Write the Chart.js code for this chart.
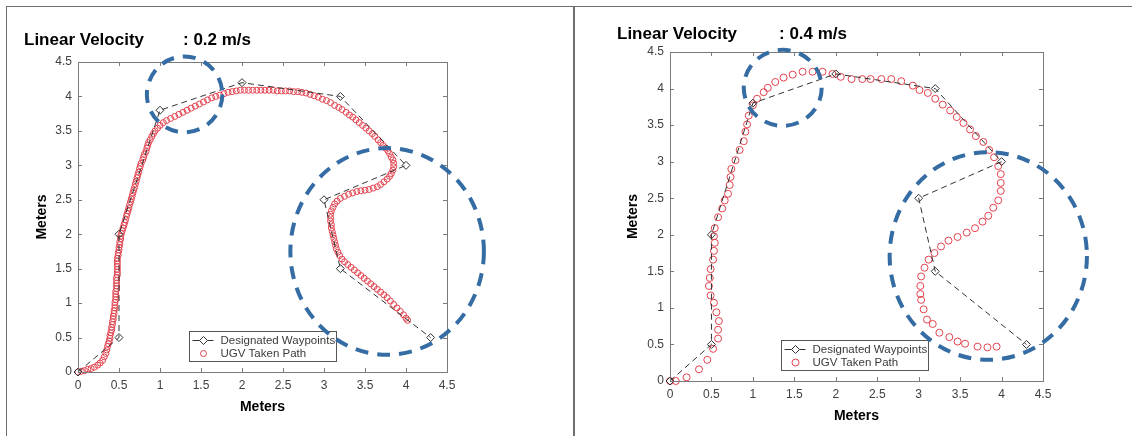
<!DOCTYPE html>
<html>
<head>
<meta charset="utf-8">
<script src="https://cdn.jsdelivr.net/npm/chart.js@4"></script>
<style>
  body { margin: 0; background: #fff; width: 1132px; height: 436px; overflow: hidden; position: relative;
         font-family: "Liberation Sans", Arial, sans-serif; }
  .frame { position: absolute; left: 6px; top: 6px; width: 1140px; height: 440px;
           border-left: 1.5px solid #6e6e6e; border-top: 1.5px solid #6e6e6e; }
  .sep { position: absolute; left: 573px; top: 6px; width: 1.5px; height: 440px; background: #6e6e6e; }
  .title { position: absolute; font-weight: bold; font-size: 17px; line-height: 20px; color: #000; white-space: nowrap; }
  canvas { position: absolute; top: 0; }
</style>
</head>
<body>
<div class="frame"></div>
<div class="sep"></div>
<canvas id="slow" width="566" height="436" style="left:0"></canvas>
<canvas id="fast" width="559" height="436" style="left:573px"></canvas>
<div class="title" style="left:24px;top:30px">Linear Velocity</div>
<div class="title" style="left:183px;top:30px">: 0.2 m/s</div>
<div class="title" style="left:617px;top:24px">Linear Velocity</div>
<div class="title" style="left:779px;top:24px">: 0.4 m/s</div>
<script>
const tickValues = [0, 0.5, 1, 1.5, 2, 2.5, 3, 3.5, 4, 4.5];
const legendLabels = ['Designated Waypoints', 'UGV Taken Path'];

const waypoints = [[0, 0], [0.5, 0.5], [0.5, 2], [1, 3.8], [2, 4.2], [3.2, 4], [4, 3], [3, 2.5], [3.2, 1.5], [4.3, 0.5]];

// path driven at 0.2 m/s (dense samples)
const pathSlow = [
  [0, 0], [0.04, 0.01], [0.08, 0.02], [0.12, 0.04], [0.16, 0.05], [0.2, 0.07], [0.24, 0.1], [0.27, 0.13],
  [0.3, 0.17], [0.32, 0.22], [0.34, 0.27], [0.35, 0.32], [0.36, 0.37], [0.37, 0.41], [0.38, 0.45], [0.39, 0.49],
  [0.39, 0.53], [0.4, 0.57], [0.41, 0.61], [0.41, 0.65], [0.42, 0.69], [0.42, 0.73], [0.43, 0.77], [0.43, 0.81],
  [0.44, 0.85], [0.44, 0.89], [0.45, 0.93], [0.45, 0.97], [0.45, 1.01], [0.46, 1.05], [0.46, 1.09], [0.46, 1.13],
  [0.46, 1.17], [0.47, 1.21], [0.47, 1.25], [0.47, 1.29], [0.47, 1.33], [0.47, 1.37], [0.48, 1.41], [0.48, 1.45],
  [0.48, 1.49], [0.48, 1.53], [0.48, 1.57], [0.48, 1.61], [0.48, 1.65], [0.49, 1.69], [0.49, 1.73], [0.5, 1.77],
  [0.5, 1.81], [0.51, 1.85], [0.51, 1.89], [0.52, 1.93], [0.52, 1.97], [0.53, 2.01], [0.54, 2.05], [0.55, 2.09],
  [0.56, 2.13], [0.57, 2.17], [0.58, 2.21], [0.59, 2.26], [0.6, 2.3], [0.61, 2.34], [0.62, 2.38], [0.63, 2.43],
  [0.64, 2.47], [0.65, 2.51], [0.66, 2.55], [0.67, 2.6], [0.68, 2.64], [0.69, 2.68], [0.7, 2.73], [0.71, 2.77],
  [0.72, 2.82], [0.73, 2.86], [0.74, 2.9], [0.75, 2.95], [0.76, 2.99], [0.77, 3.03], [0.79, 3.08], [0.8, 3.12],
  [0.81, 3.16], [0.83, 3.2], [0.84, 3.25], [0.85, 3.29], [0.86, 3.33], [0.88, 3.37], [0.9, 3.42], [0.92, 3.46],
  [0.94, 3.5], [0.97, 3.54], [1.0, 3.58], [1.04, 3.62], [1.08, 3.65], [1.13, 3.68], [1.18, 3.71], [1.23, 3.74],
  [1.28, 3.77], [1.33, 3.8], [1.38, 3.83], [1.43, 3.86], [1.48, 3.89], [1.53, 3.92], [1.58, 3.95], [1.63, 3.98],
  [1.68, 4.0], [1.73, 4.02], [1.78, 4.04], [1.83, 4.06], [1.88, 4.07], [1.93, 4.08], [1.98, 4.09], [2.03, 4.09],
  [2.08, 4.09], [2.13, 4.09], [2.18, 4.09], [2.23, 4.09], [2.28, 4.09], [2.33, 4.09], [2.38, 4.09], [2.43, 4.08],
  [2.48, 4.08], [2.53, 4.08], [2.58, 4.08], [2.63, 4.07], [2.68, 4.07], [2.73, 4.06], [2.78, 4.05], [2.83, 4.03],
  [2.88, 4.01], [2.93, 3.99], [2.98, 3.96], [3.03, 3.94], [3.08, 3.91], [3.13, 3.87], [3.18, 3.84], [3.22, 3.81],
  [3.27, 3.77], [3.31, 3.73], [3.35, 3.7], [3.39, 3.66], [3.43, 3.62], [3.47, 3.58], [3.51, 3.54], [3.55, 3.5],
  [3.59, 3.46], [3.62, 3.42], [3.66, 3.37], [3.69, 3.33], [3.72, 3.29], [3.75, 3.25], [3.78, 3.21], [3.8, 3.17],
  [3.82, 3.12], [3.84, 3.08], [3.85, 3.03], [3.85, 2.98], [3.84, 2.93], [3.82, 2.88], [3.8, 2.84], [3.77, 2.8],
  [3.73, 2.76], [3.69, 2.72], [3.65, 2.69], [3.6, 2.67], [3.55, 2.65], [3.5, 2.64], [3.45, 2.63], [3.4, 2.62],
  [3.35, 2.6], [3.3, 2.58], [3.25, 2.55], [3.2, 2.52], [3.16, 2.48], [3.13, 2.44], [3.11, 2.39], [3.09, 2.34],
  [3.08, 2.29], [3.08, 2.24], [3.08, 2.19], [3.09, 2.14], [3.09, 2.09], [3.1, 2.04], [3.11, 1.99], [3.12, 1.94],
  [3.13, 1.89], [3.14, 1.84], [3.15, 1.79], [3.17, 1.74], [3.19, 1.69], [3.22, 1.64], [3.25, 1.6], [3.29, 1.56],
  [3.33, 1.52], [3.37, 1.48], [3.41, 1.44], [3.45, 1.4], [3.49, 1.36], [3.53, 1.32], [3.57, 1.28], [3.61, 1.24],
  [3.65, 1.2], [3.69, 1.16], [3.73, 1.12], [3.77, 1.08], [3.81, 1.03], [3.85, 0.98], [3.89, 0.93], [3.93, 0.88],
  [3.97, 0.83], [4.0, 0.78], [4.02, 0.75]
];

// path driven at 0.4 m/s
const pathFast = [
  [0, 0], [0.07, 0.0], [0.2, 0.05], [0.35, 0.16], [0.45, 0.29], [0.52, 0.44], [0.58, 0.58], [0.58, 0.7],
  [0.59, 0.82], [0.56, 0.94], [0.53, 1.07], [0.49, 1.17], [0.47, 1.3], [0.48, 1.41], [0.49, 1.53], [0.52, 1.66],
  [0.53, 1.78], [0.54, 1.89], [0.53, 1.98], [0.54, 2.09], [0.58, 2.24], [0.63, 2.36], [0.66, 2.47], [0.7, 2.56],
  [0.72, 2.68], [0.73, 2.79], [0.74, 2.9], [0.79, 3.02], [0.84, 3.16], [0.89, 3.28], [0.91, 3.41], [0.93, 3.51],
  [0.95, 3.63], [1.0, 3.77], [1.05, 3.86], [1.13, 3.95], [1.18, 4.01], [1.27, 4.09], [1.37, 4.15], [1.48, 4.19],
  [1.6, 4.23], [1.72, 4.23], [1.84, 4.23], [1.96, 4.2], [2.06, 4.16], [2.19, 4.13], [2.32, 4.13], [2.42, 4.13],
  [2.55, 4.13], [2.67, 4.13], [2.79, 4.1], [2.93, 4.04], [3.01, 3.98], [3.11, 3.94], [3.2, 3.86], [3.29, 3.78],
  [3.38, 3.7], [3.46, 3.61], [3.54, 3.53], [3.62, 3.44], [3.69, 3.35], [3.78, 3.27], [3.85, 3.16], [3.91, 3.06],
  [3.96, 2.94], [3.99, 2.83], [3.99, 2.71], [3.99, 2.6], [3.96, 2.47], [3.9, 2.37], [3.84, 2.26], [3.77, 2.18],
  [3.68, 2.09], [3.58, 2.03], [3.47, 1.97], [3.36, 1.92], [3.27, 1.84], [3.19, 1.75], [3.12, 1.66], [3.07, 1.55],
  [3.03, 1.43], [3.02, 1.3], [3.02, 1.19], [3.03, 1.11], [3.06, 0.98], [3.1, 0.84], [3.17, 0.78], [3.25, 0.66],
  [3.37, 0.6], [3.47, 0.54], [3.56, 0.51], [3.71, 0.47], [3.83, 0.46], [3.94, 0.47]
];

// highlight circles: centre x, centre y, radius x, radius y (data units)
const circlesSlow = [[1.30, 4.03, 0.46, 0.55], [3.77, 1.75, 1.18, 1.50]];
const circlesFast = [[1.36, 4.01, 0.47, 0.52], [3.84, 1.71, 1.19, 1.42]];

const FONT = '"Liberation Sans", Arial, sans-serif';
const RED = '#e2424e';
const WP = '#333';
const BLUE = '#346ca3';

function drawDiamond(ctx, x, y, r) {
  ctx.beginPath();
  ctx.moveTo(x, y - r); ctx.lineTo(x + r, y); ctx.lineTo(x, y + r); ctx.lineTo(x - r, y);
  ctx.closePath();
  ctx.stroke();
}

const matlabAxes = {
  id: 'matlabAxes',
  afterDatasetsDraw(chart) {
    const { ctx, chartArea: a, scales } = chart;
    ctx.save();
    ctx.strokeStyle = '#7a7a7a';
    ctx.lineWidth = 1;
    ctx.strokeRect(Math.round(a.left) + 0.5, Math.round(a.top) + 0.5, Math.round(a.width), Math.round(a.height));
    ctx.beginPath();
    tickValues.forEach(v => {
      const px = Math.round(scales.x.getPixelForValue(v)) + 0.5;
      ctx.moveTo(px, a.bottom); ctx.lineTo(px, a.bottom - 4);
      ctx.moveTo(px, a.top); ctx.lineTo(px, a.top + 4);
      const py = Math.round(scales.y.getPixelForValue(v)) + 0.5;
      ctx.moveTo(a.left, py); ctx.lineTo(a.left + 4, py);
      ctx.moveTo(a.right, py); ctx.lineTo(a.right - 4, py);
    });
    ctx.stroke();
    ctx.restore();
  },
  afterDraw(chart, args, opts) {
    const { ctx, chartArea: a, scales } = chart;
    ctx.save();
    // legend box
    const bx = a.left + 111.5, by = a.bottom - 40.5, bw = 147, bh = 30;
    ctx.fillStyle = '#fff';
    ctx.fillRect(bx, by, bw, bh);
    ctx.strokeStyle = '#555';
    ctx.lineWidth = 1;
    ctx.strokeRect(bx, by, bw, bh);
    const sets = chart.data.datasets;
    ctx.strokeStyle = WP;
    ctx.setLineDash([]);
    ctx.beginPath(); ctx.moveTo(bx + 3, by + 9); ctx.lineTo(bx + 24, by + 9); ctx.stroke();
    ctx.fillStyle = '#fff';
    ctx.beginPath(); ctx.moveTo(bx + 14, by + 5); ctx.lineTo(bx + 18, by + 9); ctx.lineTo(bx + 14, by + 13); ctx.lineTo(bx + 10, by + 9); ctx.closePath(); ctx.fill();
    drawDiamond(ctx, bx + 14, by + 9, 4);
    ctx.strokeStyle = RED;
    ctx.beginPath(); ctx.arc(bx + 14, by + 22, opts.radius, 0, Math.PI * 2); ctx.stroke();
    ctx.fillStyle = '#3a3a3a';
    ctx.font = '11.5px ' + FONT;
    ctx.textBaseline = 'middle';
    ctx.fillText(sets[0].label, bx + 31, by + 9.5);
    ctx.fillText(sets[1].label, bx + 31, by + 22.5);
    // highlight circles
    ctx.strokeStyle = BLUE;
    ctx.lineWidth = 4;
    ctx.setLineDash([13, 9]);
    opts.circles.forEach(([cx, cy, rx, ry]) => {
      const px = scales.x.getPixelForValue(cx), py = scales.y.getPixelForValue(cy);
      const prx = scales.x.getPixelForValue(cx + rx) - px;
      const pry = py - scales.y.getPixelForValue(cy + ry);
      ctx.beginPath();
      ctx.ellipse(px, py, prx, pry, 0, 0, Math.PI * 2);
      ctx.stroke();
    });
    ctx.restore();
  }
};

function axis(title, size) {
  return {
    type: 'linear', min: 0, max: 4.5,
    afterBuildTicks: s => { s.ticks = tickValues.map(v => ({ value: v })); },
    afterFit: s => { if (s.isHorizontal()) s.height = size; else s.width = size; },
    grid: { display: false, drawTicks: false },
    border: { display: false },
    ticks: { padding: 6, color: '#404040', autoSkip: false, maxRotation: 0,
             font: { size: 12, family: FONT }, callback: v => String(v) },
    title: { display: true, text: title, color: '#000', padding: { top: 4, bottom: 4 },
             font: { size: 14, weight: 'bold', family: FONT } }
  };
}

function makeChart(id, path, circles, pad, radius) {
  new Chart(document.getElementById(id), {
    type: 'scatter',
    data: {
      datasets: [
        {
          label: legendLabels[0],
          data: waypoints.map(p => ({ x: p[0], y: p[1] })),
          showLine: true,
          borderColor: WP, borderWidth: 1, borderDash: [6, 4],
          pointStyle: 'rectRot', pointRadius: 4, pointBorderWidth: 1,
          pointBorderColor: WP, pointBackgroundColor: 'rgba(0,0,0,0)',
          clip: false
        },
        {
          label: legendLabels[1],
          data: path.map(p => ({ x: p[0], y: p[1] })),
          showLine: false,
          pointStyle: 'circle', pointRadius: radius, pointBorderWidth: 1,
          pointBorderColor: RED, pointBackgroundColor: 'rgba(0,0,0,0)',
          clip: false
        }
      ]
    },
    options: {
      responsive: false,
      animation: false,
      devicePixelRatio: 1,
      layout: { padding: pad.padding },
      plugins: {
        legend: { display: false },
        tooltip: { enabled: false },
        matlabAxes: { circles: circles, radius: radius }
      },
      scales: {
        x: axis('Meters', pad.xh),
        y: axis('Meters', pad.yw)
      }
    },
    plugins: [matlabAxes]
  });
}

makeChart('slow', pathSlow, circlesSlow,
  { padding: { left: 30, top: 62, right: 119, bottom: 16 }, xh: 48, yw: 48 }, 3);
makeChart('fast', pathFast, circlesFast,
  { padding: { left: 48, top: 52, right: 89, bottom: 7 }, xh: 48, yw: 49 }, 3.5);
</script>
</body>
</html>
